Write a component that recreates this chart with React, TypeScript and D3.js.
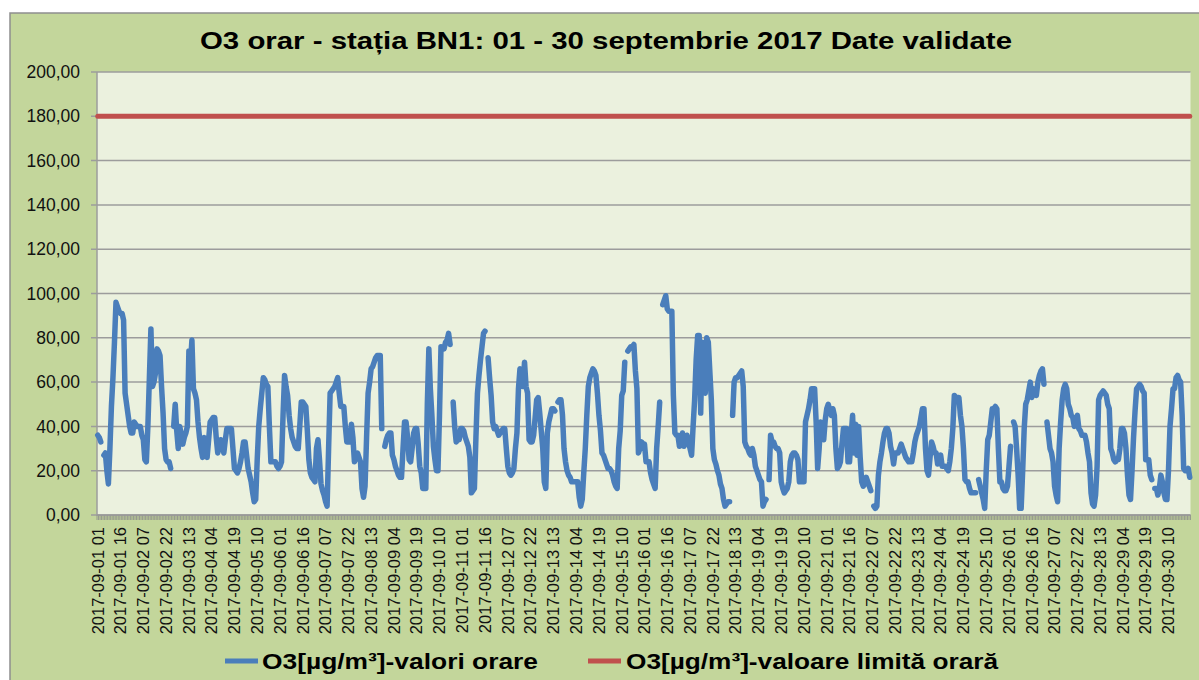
import React from "react";
import * as d3 from "d3";

// ---- Data: hourly O3 values (µg/m³), 01 Sep 2017 hour 01 .. 30 Sep 2017 hour 24; null = missing ----
const day01 = [36, 35, 33, null, 27, 28, 20, 14, 30, 49, 62, 78, 96, 94, 92, 91, 91, 88, 55, 50, 45, 40, 37, 37];
const day02 = [42, 41, 40, 40, 40, 36, 34, 25, 24, 40, 62, 84, 58, 60, 64, 75, 74, 72, 58, 46, 30, 25, 24, 24];
const day03 = [21, null, 40, 50, 38, 30, 40, 36, 32, 35, 37, 40, 74, 68, 79, 57, 55, 52, 42, 35, 30, 26, 35, 30];
const day04 = [26, 34, 42, 43, 44, 44, 35, 28, 31, 34, 31, 28, 34, 39, 39, 39, 39, 30, 21, 20, 19, 21, 24, 28];
const day05 = [33, 33, 27, 21, 18, 15, 10, 6, 7, 25, 40, 48, 55, 62, 61, 59, 58, 40, 24, 24, 24, 24, 22, 21];
const day06 = [22, 24, 45, 63, 58, 54, 45, 39, 35, 33, 31, 30, 30, 40, 51, 51, 50, 49, 38, 25, 19, 17, 16, 15];
const day07 = [30, 34, 25, 14, 11, 9, 6, 4, 30, 55, 56, 57, 58, 60, 62, 55, 49, 49, 49, 40, 33, 33, 33, 41];
const day08 = [35, 24, 26, 28, 26, 24, 12, 8, 13, 35, 55, 60, 66, 67, 69, 71, 72, 72, 72, 39, null, 31, 34, 36];
const day09 = [37, 37, 27, 25, 22, 20, 18, 17, 17, 30, 42, 42, 35, 25, 24, 30, 37, 39, 39, 32, 22, 19, 12, 12];
const day10 = [12, 50, 75, 57, 45, 31, 25, 20, 20, 45, 76, 75, 75, 78, 79, 82, 77, null, 51, 40, 33, 34, 34, 39];
const day11 = [39, 38, 35, 33, 31, 26, 10, 11, 12, 35, 55, 63, 70, 76, 82, 83, null, 71, 62, 54, 42, 39, 40, 38];
const day12 = [36, 37, 38, 39, 39, 30, 22, 19, 18, 19, 21, 30, 37, 57, 66, 62, 58, 69, 58, 55, 34, 33, 33, 36];
const day13 = [44, 52, 53, 46, 38, 30, 15, 12, 37, 42, 45, 48, 48, 47, null, 51, 52, 52, 45, 30, 24, 20, 18, 17];
const day14 = [15, 15, 15, 15, 15, 8, 4, 7, 19, 30, 45, 58, 62, 64, 66, 65, 63, 55, 45, 38, 28, 27, 25, 23];
const day15 = [21, 21, 20, 18, 15, 13, 12, 30, 38, 54, 56, 69, null, 74, 75, 76, 76, 77, 65, 57, 28, 30, 33, 32];
const day16 = [32, 24, 24, 24, 19, 16, 14, 12, 30, 40, 51, null, 95, 97, 99, 93, 92, 92, 92, 54, 37, 36, 36, 31];
const day17 = [34, 37, 31, 33, 36, 33, 30, 27, 40, 52, 70, 81, 81, 46, 78, 60, 55, 80, 78, 65, 52, 30, 25, 23];
const day18 = [20, 18, 14, 12, 7, 4, 5, 6, 6, null, 45, 60, 62, 62, 63, 64, 65, 58, 33, 31, 30, 28, 27, 30];
const day19 = [27, 22, 20, 18, 16, 15, 4, 6, 7, null, 16, 36, 33, 33, 31, 30, 30, 28, 15, 12, 10, 11, 12, 15];
const day20 = [24, 27, 28, 28, 27, 25, 15, 15, 15, 15, 42, 45, 48, 52, 57, 57, 57, 42, 21, 30, 42, 38, 34, 43];
const day21 = [48, 50, 47, 45, 48, 45, 30, 21, 22, 24, 32, 39, 39, 39, 24, 24, 35, 45, 28, 41, 27, 40, 26, 15];
const day22 = [13, 14, 17, 15, 13, 11, null, 4, 3, 4, 18, 24, 28, 33, 37, 39, 39, 37, 31, 28, 23, 28, 28, 28];
const day23 = [30, 32, 30, 28, 26, 25, 24, 24, 24, 28, 33, 36, 38, 40, 44, 48, 48, 30, 20, 18, 26, 33, 31, 28];
const day24 = [28, 23, 25, 27, 22, 22, 22, 21, 20, 24, 30, 39, 54, 53, 53, 53, 45, 40, 30, 16, 15, 15, 12, 10];
const day25 = [10, 10, 10, null, 16, 13, 10, 7, 3, 20, 34, 36, 42, 48, 48, 49, 48, 30, 15, 15, 12, 11, 11, 13];
const day26 = [22, 31, null, 42, 40, 30, 18, 3, 3, 20, 39, 50, 52, 56, 60, 53, 57, 56, 54, 60, 63, 65, 66, 59];
const day27 = [null, 42, 36, 30, 28, 24, 13, 9, 6, 30, 42, 52, 57, 59, 57, 50, 48, 45, 44, 40, 43, 45, 39, 38];
const day28 = [36, 36, 36, 33, 28, 24, 10, 5, 4, 9, 22, 52, 54, 55, 56, 55, 54, 50, 48, 30, 28, 25, 24, 25];
const day29 = [25, 30, 39, 39, 37, 30, 18, 9, 7, 20, 35, 47, 57, 58, 59, 58, 56, 55, 25, 25, 25, 18, 16, null];
const day30 = [12, 12, 9, 12, 18, 15, 10, 7, 7, 20, 40, 48, 57, 57, 62, 63, 61, 60, 45, 21, 20, 20, 21, 17];

const o3Hourly: (number | null)[] = [
  ...day01, ...day02, ...day03, ...day04, ...day05, ...day06, ...day07, ...day08, ...day09, ...day10,
  ...day11, ...day12, ...day13, ...day14, ...day15, ...day16, ...day17, ...day18, ...day19, ...day20,
  ...day21, ...day22, ...day23, ...day24, ...day25, ...day26, ...day27, ...day28, ...day29, ...day30,
];

const limitValue = 180;
const yTicks = [0, 20, 40, 60, 80, 100, 120, 140, 160, 180, 200];
const labelStep = 15;
const xTickLabels = [
  "2017-09-01 01", "2017-09-01 16", "2017-09-02 07", "2017-09-02 22", "2017-09-03 13", "2017-09-04 04",
  "2017-09-04 19", "2017-09-05 10", "2017-09-06 01", "2017-09-06 16", "2017-09-07 07", "2017-09-07 22",
  "2017-09-08 13", "2017-09-09 04", "2017-09-09 19", "2017-09-10 10", "2017-09-11 01", "2017-09-11 16",
  "2017-09-12 07", "2017-09-12 22", "2017-09-13 13", "2017-09-14 04", "2017-09-14 19", "2017-09-15 10",
  "2017-09-16 01", "2017-09-16 16", "2017-09-17 07", "2017-09-17 22", "2017-09-18 13", "2017-09-19 04",
  "2017-09-19 19", "2017-09-20 10", "2017-09-21 01", "2017-09-21 16", "2017-09-22 07", "2017-09-22 22",
  "2017-09-23 13", "2017-09-24 04", "2017-09-24 19", "2017-09-25 10", "2017-09-26 01", "2017-09-26 16",
  "2017-09-27 07", "2017-09-27 22", "2017-09-28 13", "2017-09-29 04", "2017-09-29 19", "2017-09-30 10",
];
const titleText = "O3 orar - stația BN1: 01 - 30 septembrie 2017 Date validate";
const seriesNames = ["O3[µg/m³]-valori orare", "O3[µg/m³]-valoare limită orară"];

const W = 1199;
const H = 680;
const plot = { left: 97, right: 1190.5, top: 72, bottom: 515 };
const FONT = "'Liberation Sans', Arial, Helvetica, sans-serif";
const BLUE = "#4A7EBB";
const RED = "#C0504D";
const GRID = "#9C9C9C";

export default function App() {
  const n = o3Hourly.length;
  const idx = d3.range(n);
  const x = d3.scaleBand<number>().domain(idx).range([plot.left, plot.right]).padding(0);
  const cx = (i: number) => (x(i) as number) + x.bandwidth() / 2;
  const y = d3.scaleLinear().domain([0, 200]).range([plot.bottom, plot.top]);
  const fmt = (v: number) => d3.format(".2f")(v).replace(".", ",");

  const line = d3
    .line<number | null>()
    .defined((d) => d !== null)
    .x((_, i) => cx(i))
    .y((d) => y(d as number));

  const limitSeries = idx.map(() => limitValue);
  const limitLine = d3
    .line<number>()
    .x((_, i) => cx(i))
    .y((d) => y(d));

  const tickBoundaries = d3.range(n + 1).map((i) => plot.left + i * x.bandwidth());

  return (
    <svg
      width={W}
      height={H}
      style={{ position: "absolute", left: 0, top: 0, background: "#ffffff" }}
      fontFamily={FONT}
    >
      <rect x={10} y={13} width={1220} height={700} fill="#C3D69B" stroke="#8E8E8E" strokeWidth={1.5} />
      <rect
        x={plot.left}
        y={plot.top}
        width={plot.right - plot.left}
        height={plot.bottom - plot.top}
        fill="#EBF1DE"
      />
      {/* gridlines */}
      {yTicks.map((t) => (
        <line
          key={"g" + t}
          x1={plot.left - 6}
          x2={plot.right}
          y1={y(t)}
          y2={y(t)}
          stroke={GRID}
          strokeWidth={1.5}
        />
      ))}
      {/* axes */}
      <line x1={plot.left} x2={plot.left} y1={plot.top} y2={plot.bottom} stroke={GRID} strokeWidth={1.5} />
      {tickBoundaries.map((tx, i) => (
        <line key={"xt" + i} x1={tx} x2={tx} y1={plot.bottom} y2={plot.bottom + 5} stroke="#8A8A8A" strokeWidth={0.8} />
      ))}
      <line x1={plot.left} x2={plot.right} y1={plot.bottom} y2={plot.bottom} stroke="#9A9A9A" strokeWidth={1.5} />
      {/* y labels */}
      {yTicks.map((t) => (
        <text key={"yl" + t} x={80} y={y(t)} dy="0.35em" textAnchor="end" fontSize={17.5} fill="#111">
          {fmt(t)}
        </text>
      ))}
      {/* x labels */}
      {xTickLabels.map((lab, k) => {
        const px = cx(k * labelStep);
        const py = plot.bottom + 12;
        return (
          <text
            key={"xl" + k}
            transform={`translate(${px},${py}) rotate(-90)`}
            dy="0.35em"
            textAnchor="end"
            fontSize={16.5}
            fill="#111"
          >
            {lab}
          </text>
        );
      })}
      {/* series */}
      <path
        d={limitLine(limitSeries) || ""}
        fill="none"
        stroke={RED}
        strokeWidth={5}
        strokeLinejoin="round"
        strokeLinecap="round"
      />
      <path
        d={line(o3Hourly) || ""}
        fill="none"
        stroke={BLUE}
        strokeWidth={5.5}
        strokeLinejoin="round"
        strokeLinecap="round"
      />
      {/* title */}
      <text
        x={606}
        y={49}
        textAnchor="middle"
        fontSize={23}
        fontWeight="bold"
        fill="#000"
        textLength={812}
        lengthAdjust="spacingAndGlyphs"
      >
        {titleText}
      </text>
      {/* legend */}
      <line x1={225} x2={258} y1={661} y2={661} stroke={BLUE} strokeWidth={5} />
      <text x={262} y={669} fontSize={22} fontWeight="bold" fill="#000" textLength={276} lengthAdjust="spacingAndGlyphs">
        {seriesNames[0]}
      </text>
      <line x1={588} x2={621} y1={661} y2={661} stroke={RED} strokeWidth={5} />
      <text x={626} y={669} fontSize={22} fontWeight="bold" fill="#000" textLength={372} lengthAdjust="spacingAndGlyphs">
        {seriesNames[1]}
      </text>
    </svg>
  );
}
